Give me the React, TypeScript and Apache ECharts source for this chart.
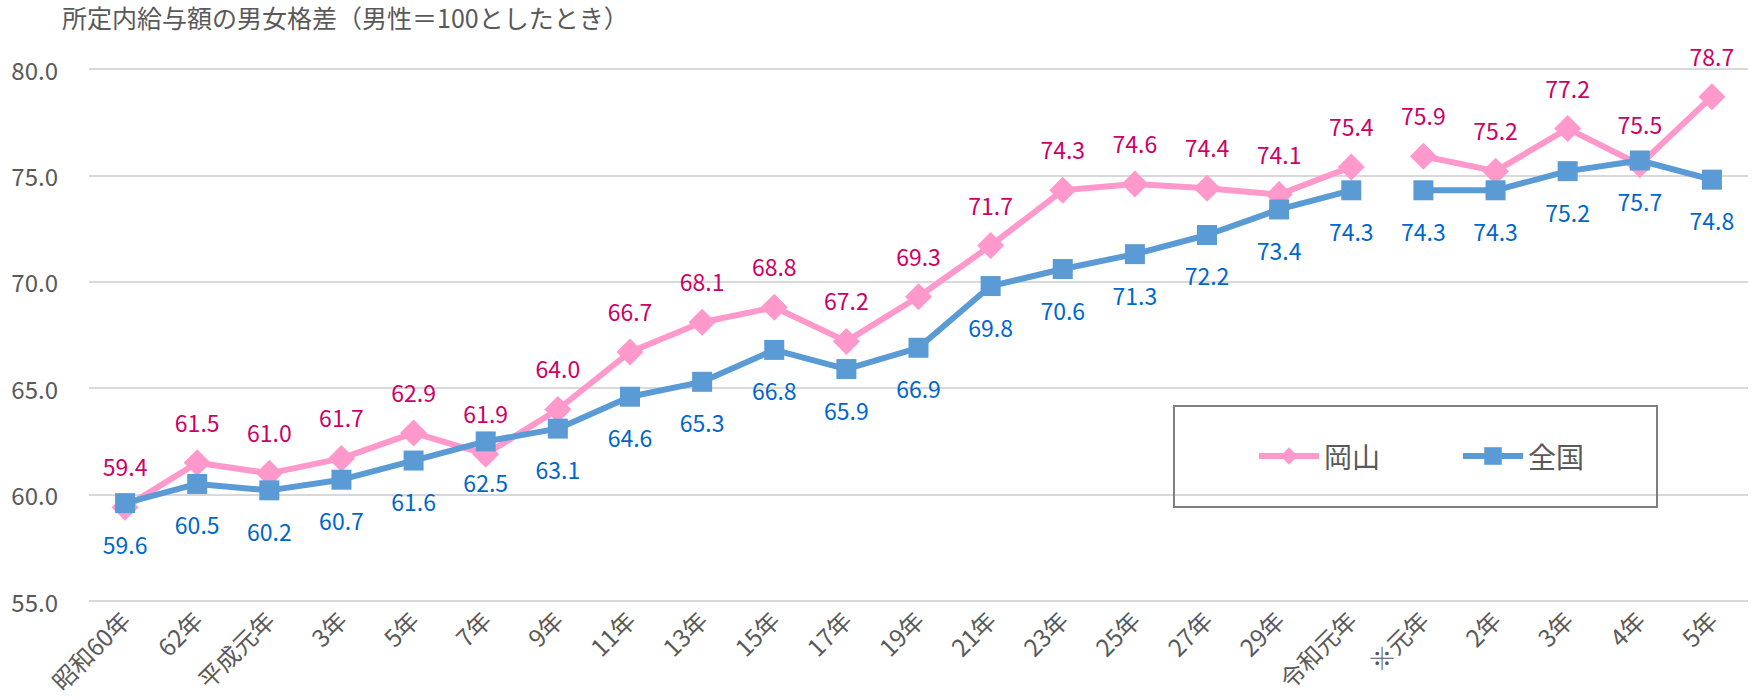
import React, { useEffect, useRef } from "react";
import * as echarts from "echarts";

const categories = [
  "昭和60年", "62年", "平成元年", "3年", "5年", "7年", "9年", "11年", "13年", "15年",
  "17年", "19年", "21年", "23年", "25年", "27年", "29年", "令和元年", "※元年", "2年",
  "3年", "4年", "5年",
];

// 岡山 (values up to 令和元年, then revised series from ※元年)
const okayama = [
  59.4, 61.5, 61.0, 61.7, 62.9, 61.9, 64.0, 66.7, 68.1, 68.8,
  67.2, 69.3, 71.7, 74.3, 74.6, 74.4, 74.1, 75.4, 75.9, 75.2,
  77.2, 75.5, 78.7,
];

// 全国
const zenkoku = [
  59.6, 60.5, 60.2, 60.7, 61.6, 62.5, 63.1, 64.6, 65.3, 66.8,
  65.9, 66.9, 69.8, 70.6, 71.3, 72.2, 73.4, 74.3, 74.3, 74.3,
  75.2, 75.7, 74.8,
];

// index where the series break (first index of the second segment)
const breakIndex = 18;

const yTicks = [55, 60, 65, 70, 75, 80];
const titleText = "所定内給与額の男女格差（男性＝100としたとき）";

const FONT = "'Noto Sans CJK JP', 'Noto Sans', sans-serif";

function segment(values: number[], from: number, to: number) {
  return values.map((v, i) => (i >= from && i < to ? v : "-"));
}

export default function App() {
  const ref = useRef<HTMLDivElement>(null);

  useEffect(() => {
    if (!ref.current) return;
    const chart = echarts.init(ref.current, null, { renderer: "svg" });

    const pink = "#ff99cc";
    const blue = "#5b9bd5";

    const mkSeries = (name: string, values: number[], from: number, to: number, isPink: boolean) => ({
      name,
      type: "line",
      data: segment(values, from, to),
      connectNulls: false,
      symbol: isPink ? "diamond" : "rect",
      symbolSize: isPink ? 27 : 20,
      z: isPink ? 2 : 3,
      lineStyle: { color: isPink ? pink : blue, width: 6 },
      itemStyle: { color: isPink ? pink : blue },
      label: {
        show: true,
        position: isPink ? "top" : "bottom",
        distance: isPink ? 16 : 19,
        formatter: (p: any) => Number(p.value).toFixed(1),
        color: isPink ? "#cc0066" : "#0066cc",
        fontSize: 23,
        fontFamily: FONT,
      },
      emphasis: { disabled: true },
    });

    chart.setOption({
      animation: false,
      backgroundColor: "#ffffff",
      title: {
        text: titleText,
        left: 62,
        top: 4,
        padding: 0,
        textStyle: { fontSize: 25, fontWeight: "normal", color: "#595959", fontFamily: FONT },
      },
      grid: { left: 89, right: 5, top: 69, bottom: 99, containLabel: false },
      legend: {
        data: ["岡山", "全国"],
        left: 1256,
        top: 442,
        padding: 0,
        itemWidth: 60,
        itemHeight: 22,
        itemGap: 80,
        lineStyle: { width: 6 },
        textStyle: { fontSize: 28, color: "#595959", fontFamily: FONT },
      },
      graphic: [
        {
          type: "rect",
          shape: { x: 1174, y: 406, width: 483, height: 101 },
          style: { fill: "none", stroke: "#7f7f7f", lineWidth: 2 },
          z: 1,
          silent: true,
        },
      ],
      xAxis: {
        type: "category",
        data: categories,
        boundaryGap: true,
        axisLine: { show: false },
        axisTick: { show: false },
        axisLabel: {
          rotate: 45,
          interval: 0,
          margin: 14,
          fontSize: 24,
          color: "#595959",
          fontFamily: FONT,
        },
      },
      yAxis: {
        type: "value",
        min: yTicks[0],
        max: yTicks[yTicks.length - 1],
        interval: 5,
        axisLine: { show: false },
        axisTick: { show: false },
        axisLabel: {
          margin: 31,
          fontSize: 24,
          color: "#595959",
          fontFamily: FONT,
          formatter: (v: number) => v.toFixed(1),
        },
        splitLine: { lineStyle: { color: "#d9d9d9", width: 2 } },
      },
      series: [
        mkSeries("岡山", okayama, 0, breakIndex, true),
        mkSeries("岡山", okayama, breakIndex, categories.length, true),
        mkSeries("全国", zenkoku, 0, breakIndex, false),
        mkSeries("全国", zenkoku, breakIndex, categories.length, false),
      ],
    });

    return () => chart.dispose();
  }, []);

  return (
    <div
      ref={ref}
      style={{ position: "fixed", left: 0, top: 0, width: 1753, height: 700, background: "#fff" }}
    />
  );
}
